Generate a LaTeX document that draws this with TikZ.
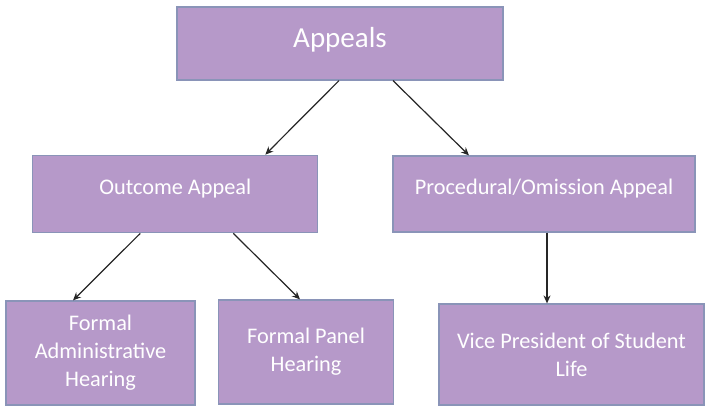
\documentclass[tikz,border=0pt]{standalone}
\usepackage{fontspec}
\setmainfont{Carlito}
\usetikzlibrary{arrows.meta}
\definecolor{boxfill}{RGB}{182,153,201}
\definecolor{boxline}{RGB}{138,148,184}
\tikzset{
  box/.style={draw=boxline, line width=1.2pt, fill=boxfill, text=white, inner sep=0pt, align=center,
    font=\fontsize{22.3}{28}\selectfont},
  conn/.style={draw=black!85, line width=1.2pt, -{Stealth[length=8pt,width=7pt]}},
}
\begin{document}
\begin{tikzpicture}[x=1pt,y=-1pt]
\useasboundingbox (0,0) rectangle (706,407);
\node[box, minimum width=326, minimum height=73, font=\fontsize{29}{35}\selectfont, text height=12pt, text depth=5pt] (app) at (340,43.5) {Appeals};
\node[box, minimum width=285, minimum height=77.5, text height=8pt, text depth=8pt] (out) at (175.3,194) {Outcome Appeal};
\node[box, minimum width=302, minimum height=76, text height=8pt, text depth=8pt] (proc) at (544,194) {Procedural/Omission Appeal};
\node[box, minimum width=189, minimum height=104] (fa) at (100.5,353) {Formal\\Administrative\\Hearing};
\node[box, minimum width=175, minimum height=104] (fp) at (306,352) {Formal Panel\\Hearing};
\node[box, minimum width=265, minimum height=101] (vp) at (571.5,354.5) {Vice President of Student\\Life};
\draw[conn] ([xshift=-1pt]app.south) -- ([xshift=90pt]out.north);
\draw[conn] ([xshift=53pt]app.south) -- ([xshift=-75pt]proc.north);
\draw[conn] ([xshift=-35pt]out.south) -- ([xshift=-27.5pt]fa.north);
\draw[conn] ([xshift=58pt]out.south) -- ([xshift=-6pt]fp.north);
\draw[conn] ([xshift=3pt]proc.south) -- ([xshift=-24.5pt]vp.north);
\end{tikzpicture}
\end{document}
